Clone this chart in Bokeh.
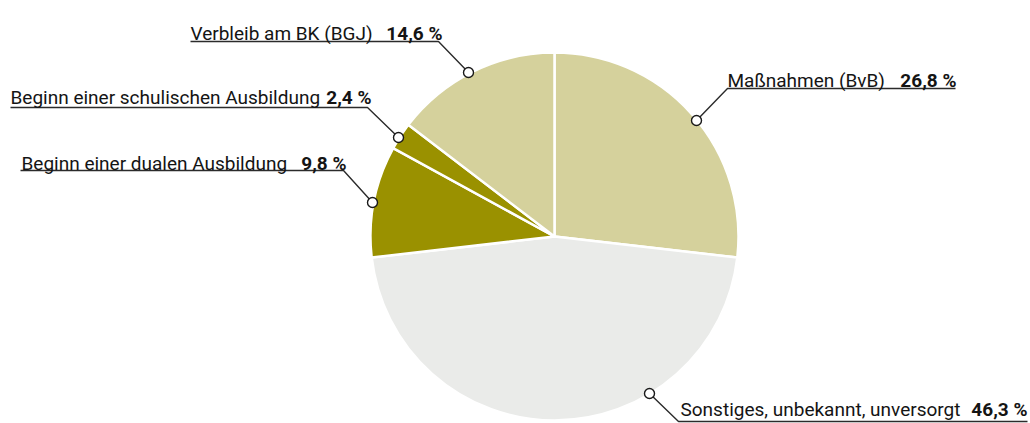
import numpy as np
from bokeh.plotting import figure
from bokeh.models import Range1d, ColumnDataSource
from bokeh.core.properties import value
from bokeh.embed import file_html
from bokeh.resources import INLINE

# ---- data ----
categories = ["Maßnahmen (BvB)", "Sonstiges, unbekannt, unversorgt",
              "Beginn einer dualen Ausbildung", "Beginn einer schulischen Ausbildung",
              "Verbleib am BK (BGJ)"]
shares = [26.8, 46.3, 9.8, 2.4, 14.6]
share_labels = ["26,8 %", "46,3 %", "9,8 %", "2,4 %", "14,6 %"]
colors = ["#d5d19c", "#eaebe9", "#9a9100", "#9a9100", "#d5d19c"]

# ---- layout (reference pixel coordinates) ----
CX, CY, R = 554, 236, 184
anchor_x = [696, 649, 372, 398, 468]
anchor_y = [120, 393, 202, 137, 72]
elbow_x = [727, 678, 343, 367, 438]
elbow_y = [88, 421, 170, 107, 41]
far_x = [955, 1027, 20, 10, 190]
reg_start_x = [727, 680, 21, 10, 190]
bold_end_x = [956, 1027, 346, 371, 442]
baseline_y = [80, 409, 163, 97, 33]

FONT = "Roboto"
FS = "19px"

p = figure(width=1030, height=423, x_range=Range1d(0, 1030), y_range=Range1d(-423, 0),
           toolbar_location=None, output_backend="svg", min_border=0,
           x_axis_type=None, y_axis_type=None)
p.grid.visible = False
p.outline_line_color = None
p.background_fill_color = "white"
p.border_fill_color = "white"

total = sum(shares)
frac = np.array(shares) / total
cum = np.concatenate([[0], np.cumsum(frac)])
start = np.pi / 2 - 2 * np.pi * cum[:-1]
end = np.pi / 2 - 2 * np.pi * cum[1:]

wsrc = ColumnDataSource(dict(start=start, end=end, color=colors))
p.wedge(x=CX, y=-CY, radius=R, start_angle="start", end_angle="end", direction="clock",
        fill_color="color", line_color="white", line_width=2.5, source=wsrc)

# leader lines
xs = [[ax, ex, fx] for ax, ex, fx in zip(anchor_x, elbow_x, far_x)]
ys = [[-ay, -ey, -ey] for ay, ey in zip(anchor_y, elbow_y)]
p.multi_line(xs=xs, ys=ys, line_color="#2b2b2b", line_width=1.4)

p.scatter(x=anchor_x, y=[-v for v in anchor_y], size=10, marker="circle",
          fill_color="white", line_color="#1a1a1a", line_width=1.4)

p.text(x=reg_start_x, y=[-v for v in baseline_y], text=categories,
       text_font=value(FONT), text_font_size=FS, text_color="#141414",
       text_align="left", text_baseline="alphabetic")
p.text(x=bold_end_x, y=[-v for v in baseline_y], text=share_labels,
       text_font=value(FONT), text_font_size=FS, text_font_style="bold",
       text_color="#141414", text_align="right", text_baseline="alphabetic")

open("out.html", "w").write(file_html(p, INLINE))
